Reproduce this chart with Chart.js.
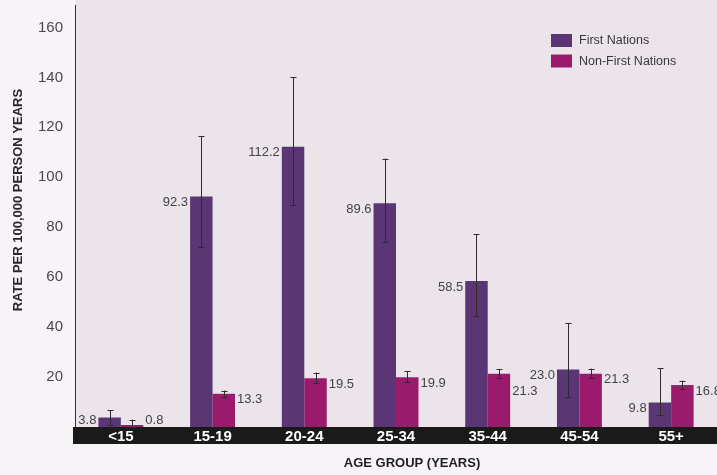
<!DOCTYPE html>
<html>
<head>
<meta charset="utf-8">
<script src="https://cdn.jsdelivr.net/npm/chart.js@4.4.1/dist/chart.umd.min.js"></script>
<style>
  html, body { margin: 0; padding: 0; background: #f6f4f6; }
  canvas { display: block; }
</style>
</head>
<body>
<canvas id="c" width="717" height="475"></canvas>
<script>
// ---- Data ----
const categories = ['<15', '15-19', '20-24', '25-34', '35-44', '45-54', '55+'];
const seriesNames = ['First Nations', 'Non-First Nations'];
const firstNations = [3.8, 92.3, 112.2, 89.6, 58.5, 23.0, 9.8];
const nonFirstNations = [0.8, 13.3, 19.5, 19.9, 21.3, 21.3, 16.8];
const firstNationsLow = [1.0, 72.1, 88.8, 74.1, 44.4, 12.1, 4.8];
const firstNationsHigh = [6.8, 116.4, 140.0, 107.5, 77.2, 41.5, 23.5];
const nonFirstNationsLow = [0.2, 12.1, 17.6, 18.0, 19.5, 19.7, 15.3];
const nonFirstNationsHigh = [3.0, 14.6, 21.8, 22.3, 23.1, 23.4, 18.6];
const yTickLabels = [20, 40, 60, 80, 100, 120, 140, 160];

const FONT = "'Liberation Sans', Arial, sans-serif";
const COLORS = ['#5a3674', '#9a1b6c'];

const errorBars = [
  { low: firstNationsLow, high: firstNationsHigh },
  { low: nonFirstNationsLow, high: nonFirstNationsHigh }
];

const backgroundPlugin = {
  id: 'bgPlugin',
  beforeDraw(chart) {
    const ctx = chart.ctx, a = chart.chartArea;
    ctx.save();
    ctx.fillStyle = '#f6f4f6';
    ctx.fillRect(0, 0, chart.width, chart.height);
    ctx.fillStyle = '#ebe5eb';
    ctx.fillRect(a.left, 0, chart.width - a.left, a.bottom);
    ctx.fillStyle = '#1b1a1b';
    ctx.fillRect(a.left - 2, a.bottom, chart.width - a.left + 2, 17);
    ctx.restore();
  }
};

const overlayPlugin = {
  id: 'overlay',
  afterDatasetsDraw(chart, args, opts) {
    const ctx = chart.ctx;
    const y = chart.scales.y;
    const bottom = chart.chartArea.bottom;
    ctx.save();
    // error bars
    chart.data.datasets.forEach((ds, di) => {
      const meta = chart.getDatasetMeta(di);
      meta.data.forEach((bar, i) => {
        const x = Math.round(bar.x) + 0.5;
        const yl = y.getPixelForValue(errorBars[di].low[i]);
        const yh = y.getPixelForValue(errorBars[di].high[i]);
        ctx.strokeStyle = '#2e2a30';
        ctx.lineWidth = 1;
        ctx.beginPath();
        ctx.moveTo(x, yl); ctx.lineTo(x, yh);
        ctx.moveTo(x - 3, Math.round(yh) + 0.5); ctx.lineTo(x + 3, Math.round(yh) + 0.5);
        ctx.moveTo(x - 3, Math.round(yl) + 0.5); ctx.lineTo(x + 3, Math.round(yl) + 0.5);
        ctx.stroke();
      });
    });
    // value labels
    ctx.font = '13px ' + FONT;
    ctx.fillStyle = '#454246';
    ctx.textBaseline = 'middle';
    chart.data.datasets.forEach((ds, di) => {
      const meta = chart.getDatasetMeta(di);
      meta.data.forEach((bar, i) => {
        const txt = ds.data[i].toFixed(1);
        const nudge = (opts.nudge[di] && opts.nudge[di][i]) || 0;
        const ty = Math.min(bar.y + 6 + nudge, bottom - 7);
        if (di === 0) {
          ctx.textAlign = 'right';
          ctx.fillText(txt, bar.x - bar.width / 2 - 2, ty);
        } else {
          ctx.textAlign = 'left';
          ctx.fillText(txt, bar.x + bar.width / 2 + 2, ty);
        }
      });
    });
    ctx.restore();
  },
  afterDraw(chart) {
    const ctx = chart.ctx;
    ctx.save();
    // y title
    ctx.fillStyle = '#2a272b';
    ctx.font = 'bold 13px ' + FONT;
    ctx.textAlign = 'center';
    ctx.textBaseline = 'middle';
    ctx.translate(18, 200);
    ctx.rotate(-Math.PI / 2);
    ctx.fillText('RATE PER 100,000 PERSON YEARS', 0, 0);
    ctx.restore();
    ctx.save();
    ctx.fillStyle = '#1f1d20';
    ctx.font = 'bold 13px ' + FONT;
    ctx.textAlign = 'center';
    ctx.textBaseline = 'middle';
    ctx.fillText('AGE GROUP (YEARS)', 412, 463);
    // legend
    ctx.font = '12.5px ' + FONT;
    ctx.textAlign = 'left';
    chart.data.datasets.forEach((ds, di) => {
      const top = 34 + di * 20.5;
      ctx.fillStyle = ds.backgroundColor;
      ctx.fillRect(551, top, 21, 13);
      ctx.fillStyle = '#3a373b';
      ctx.fillText(ds.label, 579, top + 7);
    });
    ctx.restore();
  }
};

new Chart(document.getElementById('c'), {
  type: 'bar',
  data: {
    labels: categories,
    datasets: [
      { label: seriesNames[0], data: firstNations, backgroundColor: COLORS[0], borderWidth: 0 },
      { label: seriesNames[1], data: nonFirstNations, backgroundColor: COLORS[1], borderWidth: 0 }
    ]
  },
  options: {
    responsive: false,
    devicePixelRatio: 1,
    animation: false,
    categoryPercentage: 0.49,
    barPercentage: 1.0,
    layout: { padding: { left: 0, right: 0, top: 5, bottom: 30 } },
    plugins: {
      legend: { display: false },
      tooltip: { enabled: false },
      overlay: { nudge: { 1: { 4: 12 } } }
    },
    scales: {
      x: {
        type: 'category',
        offset: true,
        grid: { display: false, drawTicks: false },
        border: { display: false },
        ticks: {
          color: '#ffffff',
          font: { family: FONT, size: 15, weight: 'bold' },
          padding: 1,
          autoSkip: false,
          maxRotation: 0
        },
        afterFit(scale) { scale.height = 18; scale.paddingLeft = 0; scale.paddingRight = 0; }
      },
      y: {
        min: 0,
        max: 169,
        grid: { display: false, drawTicks: false },
        border: { display: true, color: '#333033', width: 1 },
        ticks: {
          stepSize: 20,
          includeBounds: false,
          color: '#4a474b',
          padding: 12,
          font: { family: FONT, size: 15 },
          callback: (v) => yTickLabels.includes(v) ? String(v) : ''
        },
        afterFit(scale) { scale.width = 75; scale.paddingTop = 0; scale.paddingBottom = 0; }
      }
    }
  },
  plugins: [backgroundPlugin, overlayPlugin]
});
</script>
</body>
</html>
